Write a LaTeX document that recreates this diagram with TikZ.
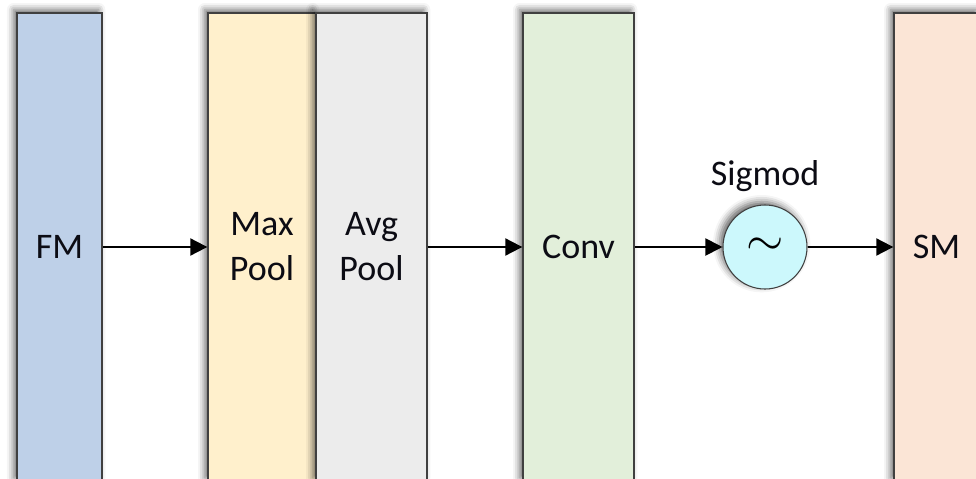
\documentclass[tikz,border=0pt]{standalone}
\usepackage{fontspec}
\setmainfont{Carlito}
\usetikzlibrary{shadows.blur,arrows.meta}

\definecolor{edgegray}{RGB}{64,64,64}
\definecolor{fmblue}{RGB}{190,208,232}
\definecolor{maxyellow}{RGB}{255,240,204}
\definecolor{avggray}{RGB}{236,236,236}
\definecolor{convgreen}{RGB}{226,239,218}
\definecolor{smpeach}{RGB}{251,229,214}
\definecolor{sigcyan}{RGB}{204,248,252}
\definecolor{labelink}{RGB}{12,12,20}

\begin{document}
\begin{tikzpicture}[x=0.75pt,y=-0.75pt,
  softshadow/.style={blur shadow={shadow xshift=-2.5pt,shadow yshift=2.5pt,
      shadow blur radius=5pt,shadow opacity=60}},
  bar/.style={draw=edgegray,line width=1pt,inner sep=0pt,minimum height=351pt,
      align=center,text=labelink,font=\fontsize{27pt}{33.75pt}\selectfont,softshadow},
  sigcircle/.style={circle,draw=edgegray,line width=0.8pt,fill=sigcyan,
      minimum size=63pt,inner sep=0pt,softshadow},
  caption/.style={text=labelink,font=\fontsize{27pt}{33.75pt}\selectfont},
  flow/.style={line width=1.5pt,-{Triangle[length=12.75pt,width=12.75pt]}}]

\useasboundingbox (0,0) rectangle (976,479);
\clip (0,0) rectangle (976,479);

% feature columns
\node[bar,fill=fmblue,minimum width=63.75pt]      (fm)   at (59.5,247)  {FM};
\node[bar,fill=maxyellow,minimum width=81pt]      (maxp) at (262,247)   {Max\\Pool};
\node[bar,fill=avggray,minimum width=83.25pt]     (avgp) at (371.5,247) {Avg\\Pool};
\node[bar,fill=convgreen,minimum width=83.25pt]   (conv) at (578.5,247) {Conv};
\node[bar,fill=smpeach,minimum width=63.75pt]     (sm)   at (936.5,247) {SM};

% activation
\node[sigcircle] (sig) at (765,247) {\scalebox{3.6}{$\sim$}};
\node[caption,anchor=base] (siglbl) at (765,185) {Sigmod};

% data flow
\draw[flow] (fm.east)   -- (maxp.west);
\draw[flow] (avgp.east) -- (conv.west);
\draw[flow] (conv.east) -- (sig.west);
\draw[flow] (sig.east)  -- (sm.west);
\end{tikzpicture}
\end{document}
